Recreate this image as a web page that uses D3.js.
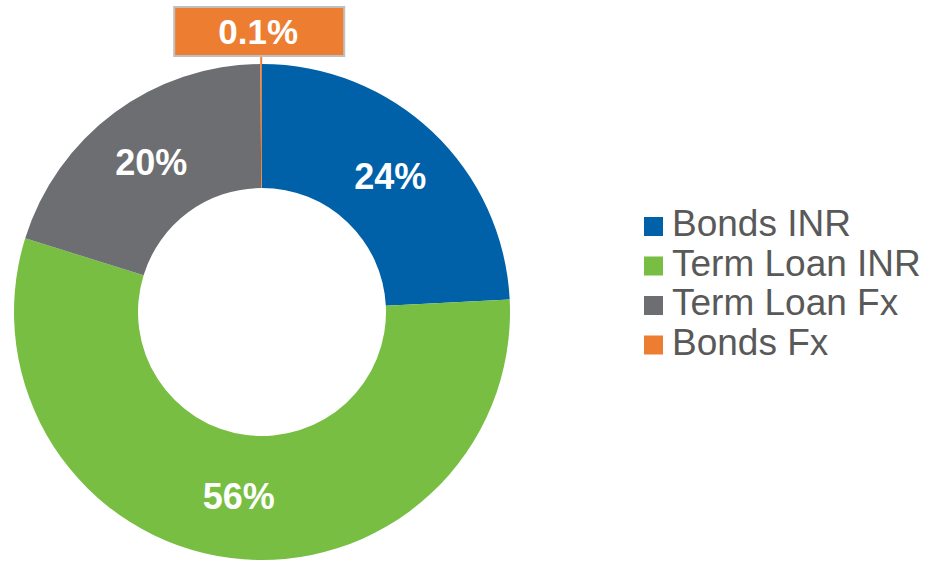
<!DOCTYPE html>
<html>
<head>
<meta charset="utf-8">
<script src="https://cdn.jsdelivr.net/npm/d3@7"></script>
<style>
  body { margin: 0; background: #fff; }
  svg { font-family: "Liberation Sans", Arial, sans-serif; }
</style>
</head>
<body>
<svg width="930" height="561"></svg>
<script>
// The svg
const svg = d3.select("svg"),
    width = +svg.attr("width"),
    height = +svg.attr("height");

// data
const categories = ["Bonds INR", "Term Loan INR", "Term Loan Fx", "Bonds Fx"];
const values = [24.2, 55.6, 20.1, 0.1];
const labels = ["24%", "56%", "20%", "0.1%"];
const colors = ["#0061a8", "#77be43", "#6d6e71", "#ed7d31"];

const cx = 262, cy = 312;
const outerR = 248, innerR = 124;

const color = d3.scaleOrdinal().domain(categories).range(colors);

const pie = d3.pie()
    .sort(null)
    .value(d => d.value);

const arc = d3.arc()
    .innerRadius(innerR)
    .outerRadius(outerR);

const data = categories.map((c, i) => ({ name: c, value: values[i], label: labels[i] }));
const arcs = pie(data);

const g = svg.append("g")
    .attr("transform", `translate(${cx},${cy})`);

g.selectAll("path")
    .data(arcs)
    .join("path")
      .attr("d", arc)
      .attr("fill", d => color(d.data.name));

// labels inside the big slices
g.selectAll(".lbl")
    .data(arcs.filter(d => d.data.value >= 1))
    .join("text")
      .classed("lbl", true)
      .attr("transform", d => `translate(${arc.centroid(d)})`)
      .attr("text-anchor", "middle")
      .attr("dy", "0.34em")
      .attr("fill", "#fff")
      .attr("font-weight", "bold")
      .attr("font-size", 36)
      .text(d => d.data.label);

// small slice: boxed callout above the ring
const small = arcs.filter(d => d.data.value < 1);
small.forEach(d => {
    const a = (d.startAngle + d.endAngle) / 2;
    const px = outerR * Math.sin(a), py = -outerR * Math.cos(a);
    const boxW = 170, boxH = 49, boxBottom = -outerR - 8;
    const bx = px - 2;
    g.append("line")
        .attr("x1", px).attr("y1", py)
        .attr("x2", px).attr("y2", boxBottom)
        .attr("stroke", color(d.data.name))
        .attr("stroke-width", 2);
    g.append("rect")
        .attr("x", bx - boxW / 2).attr("y", boxBottom - boxH)
        .attr("width", boxW).attr("height", boxH)
        .attr("fill", color(d.data.name))
        .attr("stroke", "#bfbfbf")
        .attr("stroke-width", 2);
    g.append("text")
        .attr("x", bx - 1).attr("y", boxBottom - boxH / 2)
        .attr("dy", "0.36em")
        .attr("text-anchor", "middle")
        .attr("fill", "#fff")
        .attr("font-weight", "bold")
        .attr("font-size", 35)
        .text(d.data.label);
});

// legend
const legend = svg.append("g")
    .attr("transform", "translate(644,217)");

const rows = legend.selectAll("g")
    .data(categories)
    .join("g")
      .attr("transform", (d, i) => `translate(0,${i * 39.5})`);

rows.append("rect")
    .attr("width", 19).attr("height", 19)
    .attr("fill", d => color(d));

rows.append("text")
    .attr("x", 28).attr("y", 19)
    .attr("fill", "#595959")
    .attr("font-size", 37)
    .text(d => d);
</script>
</body>
</html>
